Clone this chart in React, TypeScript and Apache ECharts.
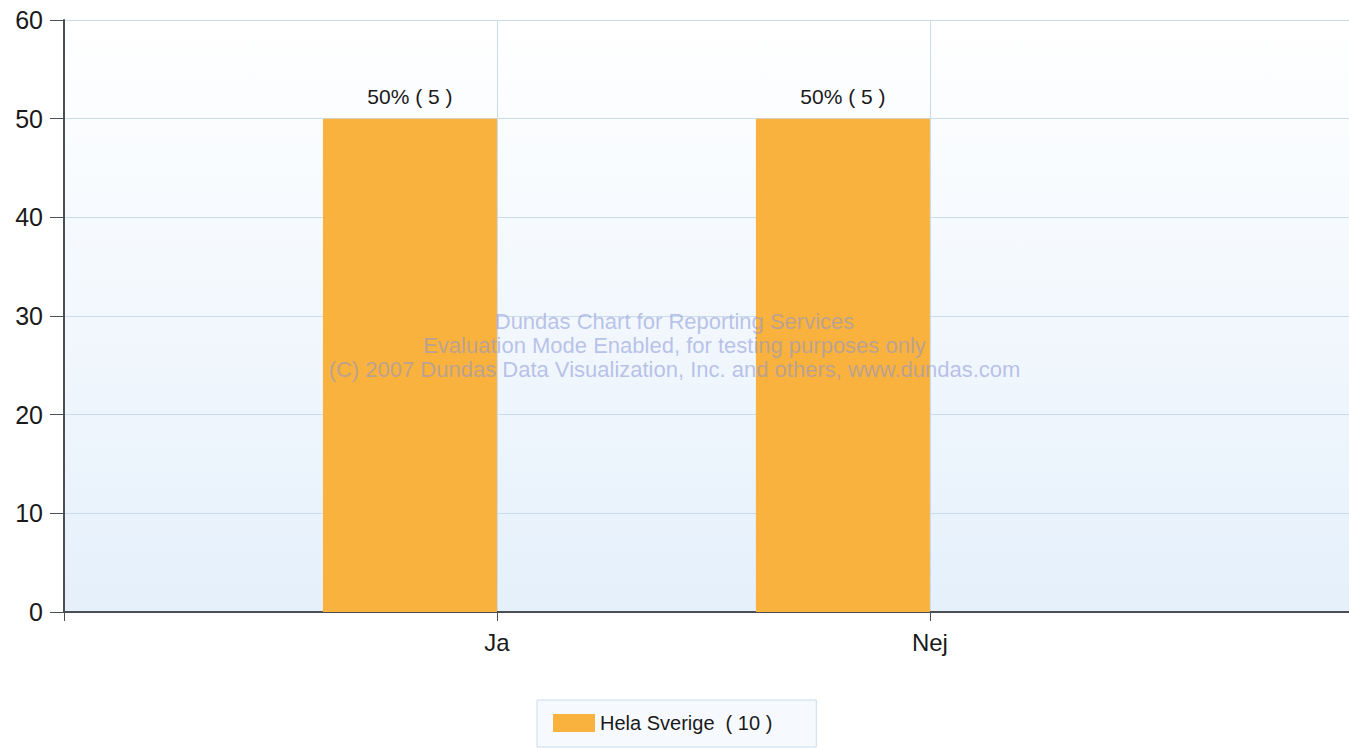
import React, { useEffect, useRef } from "react";
import * as echarts from "echarts";

const categories = ["Ja", "Nej"];
const categoryPositions = [1, 2];
const values = [50, 50];
const counts = [5, 5];
const percents = [50, 50];
const seriesName = "Hela Sverige  ( 10 )";
const yTicks = [0, 10, 20, 30, 40, 50, 60];
const watermark = [
  "Dundas Chart for Reporting Services",
  "Evaluation Mode Enabled, for testing purposes only",
  "(C) 2007 Dundas Data Visualization, Inc. and others, www.dundas.com",
];

const FONT = "'Liberation Sans', Arial, sans-serif";

export default function App() {
  const ref = useRef<HTMLDivElement>(null);
  useEffect(() => {
    if (!ref.current) return;
    const chart = echarts.init(ref.current, null, { renderer: "svg" });
    const barData = categoryPositions.map((x, i) => [x, values[i]]);
    const option: any = {
      animation: false,
      textStyle: { fontFamily: FONT },
      grid: {
        left: 64,
        right: 0,
        top: 20,
        bottom: 136,
        show: true,
        borderWidth: 0,
        backgroundColor: new echarts.graphic.LinearGradient(0, 0, 0, 1, [
          { offset: 0, color: "#ffffff" },
          { offset: 1, color: "#e5f0fb" },
        ]),
      },
      xAxis: {
        type: "value",
        min: 0,
        max: 2.968,
        interval: 1,
        axisLine: { show: true, onZero: false, lineStyle: { color: "#4a4f56", width: 2 } },
        axisTick: { show: true, length: 9, lineStyle: { color: "#4a4f56", width: 1 } },
        splitLine: { show: true, lineStyle: { color: "#c9dcec", width: 1 } },
        axisLabel: {
          showMaxLabel: false,
          margin: 18,
          fontSize: 24,
          color: "#1a1a1a",
          fontFamily: FONT,
          formatter: (v: number) => {
            const idx = categoryPositions.indexOf(Math.round(v));
            return idx >= 0 && Math.abs(v - Math.round(v)) < 1e-6 ? categories[idx] : "";
          },
        },
      },
      yAxis: {
        type: "value",
        min: yTicks[0],
        max: yTicks[yTicks.length - 1],
        interval: 10,
        axisLine: { show: true, lineStyle: { color: "#4a4f56", width: 2 } },
        axisTick: { show: true, length: 14, lineStyle: { color: "#4a4f56", width: 1 } },
        splitLine: { show: true, lineStyle: { color: "#c9dcec", width: 1 } },
        axisLabel: { margin: 21, fontSize: 25, color: "#1a1a1a", fontFamily: FONT },
      },
      legend: {
        data: [{ name: seriesName, icon: "rect" }],
        left: 537,
        top: 700,
        padding: [13, 44, 14, 16],
        itemWidth: 42,
        itemHeight: 18,
        itemGap: 10,
        backgroundColor: "#f6fafe",
        borderColor: "#c8dcec",
        borderWidth: 1,
        borderRadius: 0,
        textStyle: { fontSize: 20, color: "#1a1a1a", fontFamily: FONT },
      },
      series: [
        {
          name: seriesName,
          type: "bar",
          data: barData,
          barWidth: 174,
          barGap: "0%",
          itemStyle: { color: "#f9b23d" },
          label: {
            show: true,
            position: "top",
            distance: 12,
            fontSize: 21,
            color: "#1a1a1a",
            fontFamily: FONT,
            formatter: (p: any) => `${percents[p.dataIndex]}% ( ${counts[p.dataIndex]} )`,
          },
        },
        {
          name: "_empty",
          type: "bar",
          data: categoryPositions.map((x) => [x, null]),
          barWidth: 174,
          barGap: "0%",
          itemStyle: { color: "#6fa8dc" },
        },
      ],
      graphic: watermark.map((t, i) => ({
        type: "text",
        left: "center",
        top: 310 + i * 24,
        z: 100,
        silent: true,
        style: {
          text: t,
          fontSize: 22,
          fontFamily: FONT,
          fill: "rgba(135,148,215,0.55)",
        },
      })),
    };
    chart.setOption(option);
    return () => chart.dispose();
  }, []);
  return (
    <div
      ref={ref}
      style={{ position: "absolute", left: 0, top: 0, width: 1349, height: 748 }}
    />
  );
}
